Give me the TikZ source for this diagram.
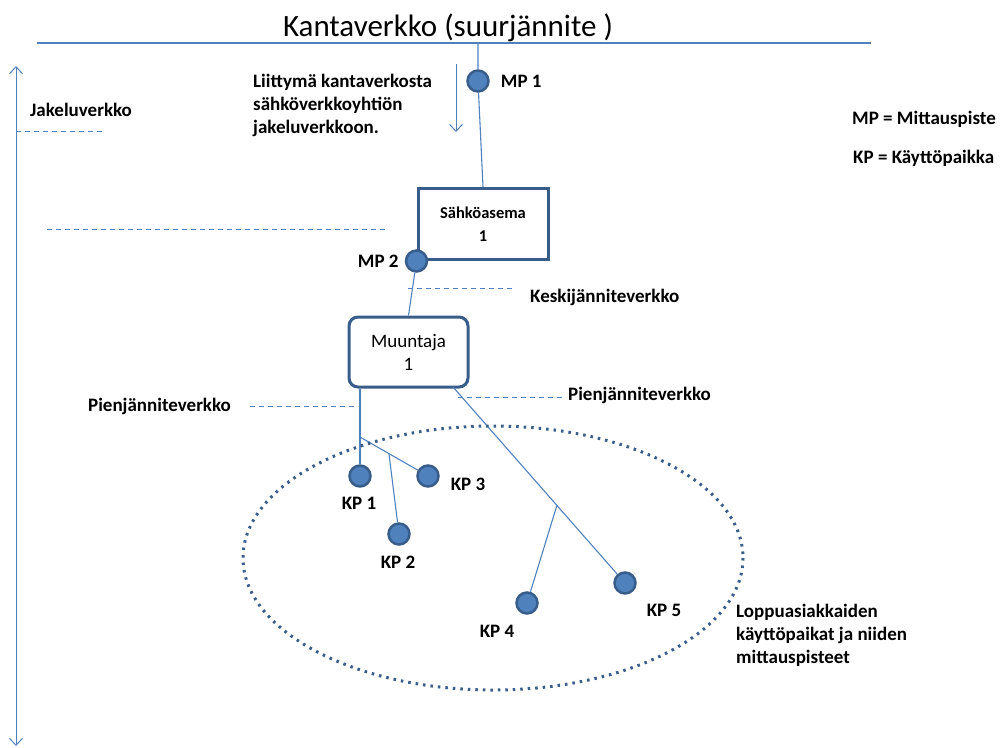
\documentclass[tikz,border=0pt]{standalone}
\usepackage{fontspec}
\setmainfont{Carlito}
\usetikzlibrary{arrows.meta, calc, positioning}
\definecolor{lineblue}{HTML}{4F81BD}
\definecolor{darkblue}{HTML}{385D8A}
\begin{document}
\begin{tikzpicture}[x=1pt,y=-1pt,
>={Straight Barb[length=7pt,width=13pt]},
wire/.style={lineblue,line width=1.1pt},
guide/.style={lineblue,line width=0.9pt,dash pattern=on 5pt off 4pt},
meter/.style={circle,fill=lineblue,draw=darkblue,line width=2.5pt,minimum size=21pt,inner sep=0pt},
station/.style={draw=darkblue,line width=3pt,fill=white,align=center,font=\bfseries\fontsize{16.5}{23}\selectfont},
lbl/.style={font=\bfseries\fontsize{19}{23}\selectfont,text=black,inner sep=0pt,align=left}]

  \useasboundingbox (0,0) rectangle (1001,747);

  % \draw (0, 0) grid (1001, 747);

  % kantaverkko
  \node (title) at (448,28) {\fontsize{31}{33}\selectfont Kantaverkko (suurjännite )};
  \draw[wire] (37,43) -- (871,43);
  \draw[lineblue,line width=1pt,<->] (16,746) -- (16,66);
  \draw[lineblue,line width=1pt,->] (456,64) -- (456,132);

  \coordinate (k0)  at (478,43);
  \coordinate (m1)  at (453,387);
  \coordinate (j1)  at (360,437);
  \coordinate (j2)  at (389,454);
  \coordinate (j3)  at (557,505);

  % asema ja muuntaja
  \node[meter] (mp1) at (478,81) {};
  \node[station,minimum width=130pt,minimum height=71pt] (asema) at (483,224)
    {Sähköasema\\1};
  \node[meter] (mp2) at (asema.south west) {};
  \node[station,rounded corners=9pt,minimum width=119pt,minimum height=70pt,
    font=\fontsize{19}{23}\selectfont] (muuntaja) at (408.5,352) {Muuntaja\\1};

  % kayttopaikat
  \node[meter] (kp1) at (360,476) {};
  \node[meter] (kp2) at (399,534) {};
  \node[meter] (kp3) at (428,476) {};
  \node[meter] (kp4) at (527,603) {};
  \node[meter] (kp5) at (625,583) {};

  \begin{scope}[on background layer/.try]
  \draw[wire] (k0) -- (mp1) -- (asema.north);
  \draw[wire] (mp2) -- (muuntaja.north);
  \draw[wire] (muuntaja.south -| kp1) -- (kp1);
  \draw[wire] (j1) -- (kp3);
  \draw[wire] (j2) -- (kp2);
  \draw[wire] (m1) -- (kp5);
  \draw[wire] (j3) -- (kp4);
  \end{scope}

  % raja-viivat
  \draw[guide] (16,131) -- (103,131);
  \draw[guide] (47,229) -- (388,229);
  \draw[guide] (408,288) -- (515,288);
  \draw[guide] (458,397) -- (563,397);
  \draw[guide] (250,406) -- (358,406);

  \draw[darkblue,line width=3pt,dash pattern=on 2.5pt off 5pt] (493,558) ellipse [x radius=250, y radius=132];

  % tekstit
  \node[lbl,anchor=west] (jakelu) at (30,110) {Jakeluverkko};
  \node[lbl,anchor=west] (liittyma) at (253,105)
    {Liittymä kantaverkosta\\sähköverkkoyhtiön\\jakeluverkkoon.};
  \node[lbl,right=11pt of mp1] (mp1l) {MP 1};
  \node[lbl,left=6pt of mp2] (mp2l) {MP 2};
  \node[lbl,anchor=west] (keski) at (530,297) {Keskijänniteverkko};
  \node[lbl,anchor=west] (pien1) at (568,395) {Pienjänniteverkko};
  \node[lbl,anchor=west] (pien2) at (88,406) {Pienjänniteverkko};
  \node[lbl] (kp1l) at (359,503) {KP 1};
  \node[lbl] (kp2l) at (398,562) {KP 2};
  \node[lbl] (kp3l) at (468,484) {KP 3};
  \node[lbl] (kp4l) at (497,631) {KP 4};
  \node[lbl] (kp5l) at (664,610) {KP 5};
  \node[lbl,anchor=west] (loppu) at (736,635)
    {Loppuasiakkaiden\\käyttöpaikat ja niiden\\mittauspisteet};
  \node[lbl,anchor=west] (mpdef) at (852,119) {MP = Mittauspiste};
  \node[lbl,anchor=west] (kpdef) at (853,158) {KP = Käyttöpaikka};
\end{tikzpicture}
\end{document}
